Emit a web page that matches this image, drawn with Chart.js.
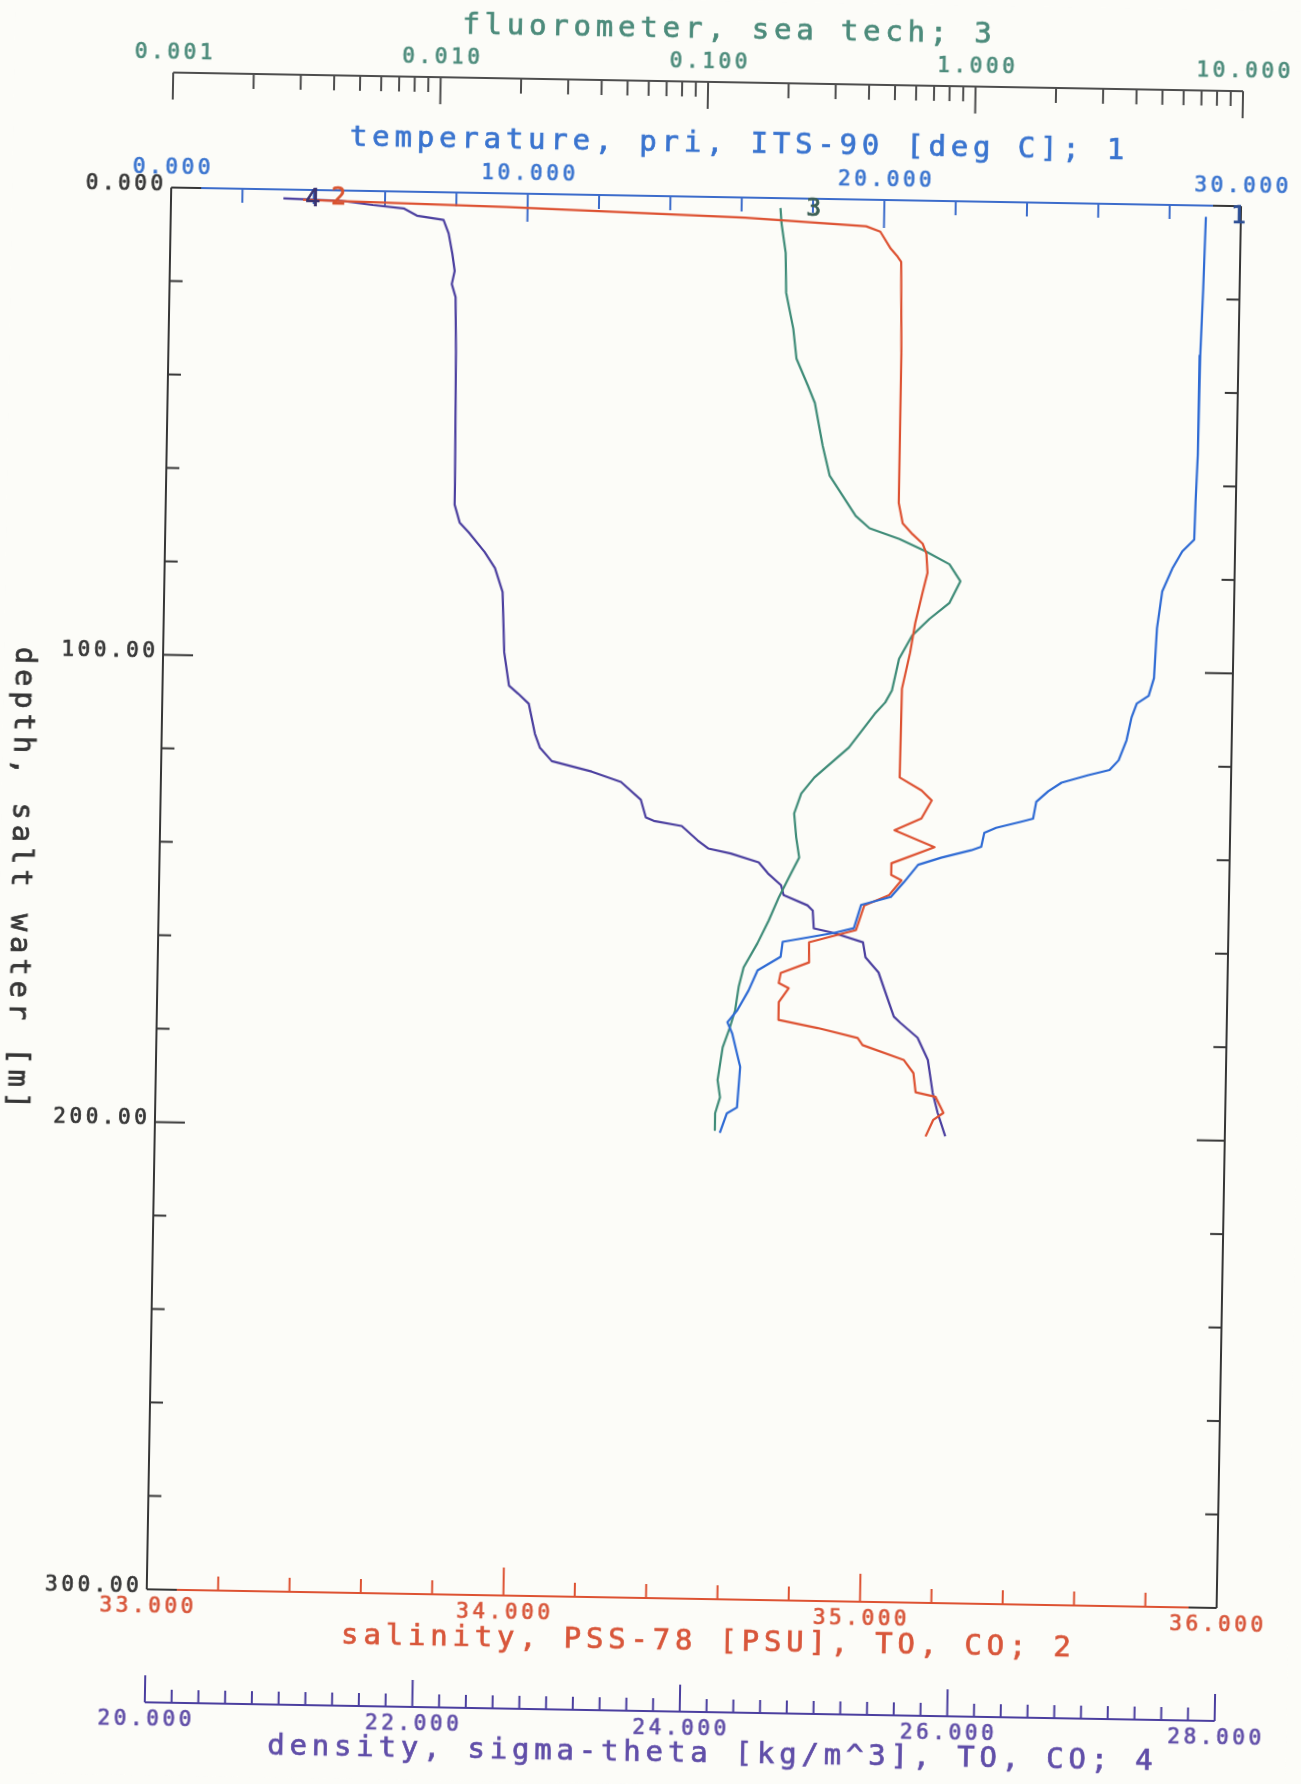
<!DOCTYPE html>
<html>
<head>
<meta charset="utf-8">
<title>CTD profile</title>
<script src="https://cdn.jsdelivr.net/npm/chart.js@4.4.1/dist/chart.umd.min.js"></script>
<style>
  html, body { margin: 0; padding: 0; background: #fcfcf8; overflow: hidden; }
  #sheet { width: 1301px; height: 1784px; transform: rotate(1deg); }
</style>
</head>
<body>
<div id="sheet"><canvas id="profile" width="1301" height="1784"></canvas></div>
<script>
/* cast profile: depth [m] against each sensor */
const tempDepth = [2.4, 17.7, 32.1, 53.3, 63.5, 71.5, 74.1, 77.8, 82.7, 90.6, 101.3, 105.1, 106.8, 109.8, 114.7, 119.0, 121.1, 122.3, 124.0, 125.9, 128.2, 131.8, 132.5, 133.9, 135.0, 138.0, 138.8, 140.5, 142.1, 145.9, 149.1, 150.9, 155.9, 157.0, 159.1, 162.3, 165.3, 169.6, 173.9, 176.5, 178.9, 186.0, 194.7, 196.0, 200.2];
const tempValue = [29.02, 28.98, 28.93, 28.91, 28.87, 28.85, 28.52, 28.25, 27.98, 27.85, 27.79, 27.65, 27.32, 27.18, 27.05, 26.84, 26.59, 26.00, 25.25, 24.88, 24.55, 24.47, 24.14, 23.44, 23.11, 23.03, 22.75, 21.91, 21.27, 20.88, 20.52, 19.69, 19.50, 18.94, 17.51, 17.46, 16.82, 16.58, 16.27, 16.00, 16.14, 16.38, 16.31, 16.03, 15.84];

const salDepth = [2.1, 2.9, 4.3, 5.7, 6.8, 10.4, 12.1, 13.2, 32.8, 64.8, 69.1, 71.4, 73.4, 75.5, 79.6, 83.9, 90.4, 96.8, 104.5, 123.5, 126.2, 128.3, 132.2, 134.8, 138.3, 141.9, 144.4, 145.5, 148.7, 151.0, 156.3, 159.1, 163.4, 165.8, 167.9, 169.0, 172.0, 175.8, 177.4, 179.4, 180.9, 183.9, 186.7, 190.8, 191.7, 195.1, 196.6, 200.2];
const salValue = [33.37, 33.94, 34.61, 34.95, 34.99, 35.02, 35.04, 35.05, 35.055, 35.055, 35.067, 35.095, 35.124, 35.135, 35.139, 35.126, 35.107, 35.094, 35.073, 35.071, 35.133, 35.162, 35.134, 35.059, 35.172, 35.052, 35.052, 35.081, 35.047, 34.978, 34.956, 34.825, 34.826, 34.747, 34.742, 34.770, 34.743, 34.743, 34.853, 34.966, 34.980, 35.096, 35.124, 35.131, 35.187, 35.210, 35.182, 35.161];

const fluorDepth = [2.1, 5.3, 11.7, 20.2, 27.9, 34.3, 40.0, 43.7, 52.8, 59.2, 67.7, 70.3, 72.5, 75.0, 77.7, 81.3, 86.0, 89.5, 93.1, 98.1, 104.9, 107.5, 110.0, 117.3, 123.8, 127.3, 131.6, 136.7, 141.0, 144.4, 149.5, 154.6, 159.5, 164.7, 168.9, 173.9, 177.6, 181.9, 188.9, 192.6, 196.0, 199.6];
const fluorValue = [0.190, 0.192, 0.200, 0.202, 0.216, 0.223, 0.247, 0.263, 0.283, 0.302, 0.380, 0.429, 0.556, 0.697, 0.858, 0.945, 0.862, 0.727, 0.629, 0.564, 0.533, 0.504, 0.461, 0.371, 0.277, 0.248, 0.234, 0.239, 0.246, 0.230, 0.208, 0.191, 0.174, 0.155, 0.149, 0.145, 0.139, 0.131, 0.126, 0.129, 0.124, 0.124];

const densDepth = [1.9, 2.2, 3.0, 3.6, 5.1, 5.9, 8.8, 13.1, 16.8, 19.6, 22.4, 34.0, 62.5, 66.8, 70.6, 72.7, 76.8, 80.2, 85.3, 98.2, 105.3, 107.0, 109.1, 115.5, 118.5, 121.3, 123.4, 125.5, 129.2, 133.0, 133.7, 134.7, 137.7, 139.4, 140.4, 142.2, 144.5, 147.0, 149.1, 151.2, 152.3, 156.1, 157.0, 158.9, 162.1, 165.3, 174.7, 176.0, 179.1, 183.8, 190.8, 195.1, 200.1];
const densValue = [20.84, 21.27, 21.51, 21.74, 21.84, 22.04, 22.08, 22.11, 22.13, 22.11, 22.14, 22.15, 22.16, 22.16, 22.20, 22.27, 22.39, 22.47, 22.53, 22.55, 22.59, 22.66, 22.74, 22.79, 22.83, 22.92, 23.22, 23.44, 23.59, 23.63, 23.69, 23.90, 24.02, 24.10, 24.27, 24.48, 24.55, 24.65, 24.67, 24.85, 24.89, 24.90, 25.05, 25.27, 25.29, 25.39, 25.51, 25.56, 25.69, 25.77, 25.81, 25.85, 25.91];

// axis ticks and their labels
const depthMajor = [0, 100, 200, 300];
const depthLabels = ['0.000', '100.00', '200.00', '300.00'];
const tempMajor = [0, 10, 20, 30];
const tempLabels = ['0.000', '10.000', '20.000', '30.000'];
const salMajor = [33, 34, 35, 36];
const salLabels = ['33.000', '34.000', '35.000', '36.000'];
const densMajor = [20, 22, 24, 26, 28];
const densLabels = ['20.000', '22.000', '24.000', '26.000', '28.000'];
const fluorMajor = [0.001, 0.01, 0.1, 1, 10];
const fluorLabels = ['0.001', '0.010', '0.100', '1.000', '10.000'];

// curve numbers written at the surface end of each trace: [text, axis, value, depth]
const curveTags = [['4', 'xDens', 21.06, 1.5], ['2', 'xSal', 33.47, 1.1], ['3', 'xFluor', 0.253, 1.6], ['1', 'xTemp', 29.93, 1.6]];

const COL = {
  temp: '#2f6bd4', sal: '#dd5232', fluor: '#3f8c78', dens: '#4b3f9f',
  tempText: '#3a74cf', salText: '#d8563a', fluorText: '#4c8b7b', densText: '#604ea8',
  frame: '#363636', depthText: '#363636', fluorAxis: '#4d4d4d', tempAxis: '#3c6ccb'
};
const FONT = '"DejaVu Sans Mono", monospace';
const TICK_PX = 21, TICK_GAP = 3.6;
const TITLE_PX = 29, TITLE_GAP = 4.8;

function dataset(label, depth, value, axis, color) {
  return {
    label: label,
    data: depth.map((d, i) => ({ x: value[i], y: d })),
    xAxisID: axis, yAxisID: 'y',
    showLine: true, borderColor: color, borderWidth: 2.2,
    borderJoinStyle: 'round', pointRadius: 0, tension: 0, fill: false
  };
}

// plotter lettering: monospaced, widely spaced, pen stroke drawn over the glyph
function put(ctx, str, x, yMid, px, gap, color, align) {
  ctx.font = px + 'px ' + FONT;
  ctx.fillStyle = color;
  ctx.strokeStyle = color;
  ctx.lineWidth = 0.7;
  ctx.textAlign = align || 'center';
  ctx.textBaseline = 'alphabetic';
  let shift = 0;
  if ('letterSpacing' in ctx) {
    ctx.letterSpacing = gap + 'px';
    shift = align === 'right' ? gap : (align === 'left' ? 0 : gap / 2);
  }
  const by = yMid + 0.365 * px;
  ctx.fillText(str, x + shift, by);
  ctx.strokeText(str, x + shift, by);
}

function seg(ctx, x1, y1, x2, y2, color) {
  ctx.strokeStyle = color;
  ctx.beginPath();
  ctx.moveTo(x1, y1);
  ctx.lineTo(x2, y2);
  ctx.stroke();
}

function steps(min, max, step, majors) {
  const out = [];
  const n = Math.round((max - min) / step);
  for (let i = 0; i <= n; i++) {
    const v = min + i * step;
    if (!majors.some(m => Math.abs(m - v) < 1e-6)) out.push(v);
  }
  return out;
}

const paper = {
  id: 'paper',
  beforeDraw(chart) {
    const ctx = chart.ctx;
    ctx.save();
    ctx.fillStyle = '#fcfcf8';
    ctx.fillRect(0, 0, chart.width, chart.height);
    ctx.restore();
  }
};

const plotter = {
  id: 'plotter',
  beforeDatasetsDraw(chart) {
    const { ctx, chartArea: a, scales } = chart;
    const cx = (a.left + a.right) / 2;
    const fluorY = a.top - 115;
    const densY = a.bottom + 113;
    ctx.save();

    // fluorometer, log scale, ticks hang below the line
    const fx = scales.xFluor;
    ctx.lineWidth = 2;
    seg(ctx, a.left, fluorY, a.right, fluorY, COL.fluorAxis);
    fluorMajor.forEach(v => {
      const x = fx.getPixelForValue(v);
      seg(ctx, x, fluorY, x, fluorY + 27, COL.fluorAxis);
    });
    for (let d = 0.001; d < 9; d *= 10) {
      for (let m = 2; m <= 9; m++) {
        const x = fx.getPixelForValue(d * m);
        seg(ctx, x, fluorY, x, fluorY + 15, COL.fluorAxis);
      }
    }
    fluorMajor.forEach((v, i) => put(ctx, fluorLabels[i], fx.getPixelForValue(v), fluorY - 22, TICK_PX, TICK_GAP, COL.fluorText));
    put(ctx, 'fluorometer, sea tech; 3', cx + 18, fluorY - 55, TITLE_PX, TITLE_GAP, COL.fluorText);

    // temperature along the top of the frame
    const tx = scales.xTemp;
    ctx.lineWidth = 2;
    seg(ctx, a.left, a.top, a.right, a.top, COL.tempAxis);
    tempMajor.forEach(v => {
      const x = tx.getPixelForValue(v);
      seg(ctx, x, a.top, x, a.top + 28, COL.tempAxis);
    });
    steps(0, 30, 2, tempMajor).forEach(v => {
      const x = tx.getPixelForValue(v);
      seg(ctx, x, a.top, x, a.top + 14, COL.tempAxis);
    });
    tempMajor.forEach((v, i) => put(ctx, tempLabels[i], tx.getPixelForValue(v), a.top - 22, TICK_PX, TICK_GAP, COL.tempText));
    put(ctx, 'temperature, pri, ITS-90 [deg C]; 1', cx + 30, a.top - 56, TITLE_PX, TITLE_GAP, COL.tempText);

    // salinity along the bottom of the frame
    const sx = scales.xSal;
    ctx.lineWidth = 2;
    seg(ctx, a.left, a.bottom, a.right, a.bottom, COL.sal);
    salMajor.forEach(v => {
      const x = sx.getPixelForValue(v);
      seg(ctx, x, a.bottom, x, a.bottom - 28, COL.sal);
    });
    steps(33, 36, 0.2, salMajor).forEach(v => {
      const x = sx.getPixelForValue(v);
      seg(ctx, x, a.bottom, x, a.bottom - 14, COL.sal);
    });
    salMajor.forEach((v, i) => put(ctx, salLabels[i], sx.getPixelForValue(v), a.bottom + 15, TICK_PX, TICK_GAP, COL.salText));
    put(ctx, 'salinity, PSS-78 [PSU], TO, CO; 2', cx + 25, a.bottom + 40, TITLE_PX, TITLE_GAP, COL.salText);

    // density, detached line below salinity
    const dx = scales.xDens;
    ctx.lineWidth = 2;
    seg(ctx, a.left, densY, a.right, densY, COL.dens);
    densMajor.forEach(v => {
      const x = dx.getPixelForValue(v);
      seg(ctx, x, densY, x, densY - 27, COL.dens);
    });
    steps(20, 28, 0.2, densMajor).forEach(v => {
      const x = dx.getPixelForValue(v);
      seg(ctx, x, densY, x, densY - 13, COL.dens);
    });
    densMajor.forEach((v, i) => put(ctx, densLabels[i], dx.getPixelForValue(v), densY + 15, TICK_PX, TICK_GAP, COL.densText));
    put(ctx, 'density, sigma-theta [kg/m^3], TO, CO; 4', cx + 31, densY + 39, TITLE_PX, TITLE_GAP, COL.densText);

    // depth on both sides, ticks pointing inward
    const y = scales.y;
    ctx.lineWidth = 2;
    seg(ctx, a.left, a.top, a.left, a.bottom, COL.frame);
    seg(ctx, a.right, a.top, a.right, a.bottom, COL.frame);
    depthMajor.forEach(v => {
      const py = y.getPixelForValue(v);
      seg(ctx, a.left, py, a.left + 30, py, COL.frame);
      seg(ctx, a.right, py, a.right - 28, py, COL.frame);
    });
    steps(0, 300, 20, depthMajor).forEach(v => {
      const py = y.getPixelForValue(v);
      seg(ctx, a.left, py, a.left + 13, py, COL.frame);
      seg(ctx, a.right, py, a.right - 13, py, COL.frame);
    });
    depthMajor.forEach((v, i) => put(ctx, depthLabels[i], a.left - 8, y.getPixelForValue(v) - 5, TICK_PX, TICK_GAP, COL.depthText, 'right'));
    ctx.save();
    ctx.translate(23, (a.top + a.bottom) / 2 - 8);
    ctx.rotate(Math.PI / 2);
    put(ctx, 'depth, salt water [m]', 0, 0, TITLE_PX, TITLE_GAP, COL.depthText);
    ctx.restore();

    ctx.restore();
  },
  afterDatasetsDraw(chart) {
    const ctx = chart.ctx;
    const colors = { xTemp: '#2d4f95', xSal: '#d9532f', xFluor: '#3c5f55', xDens: '#3a3270' };
    ctx.save();
    curveTags.forEach(([txt, axis, v, d]) => {
      const x = chart.scales[axis].getPixelForValue(v);
      const py = chart.scales.y.getPixelForValue(d);
      put(ctx, txt, x, py, 25, 0, colors[axis]);
    });
    ctx.restore();
  }
};

const ctx = document.getElementById('profile').getContext('2d');
const chart = new Chart(ctx, {
  type: 'scatter',
  data: {
    datasets: [
      dataset('temperature', tempDepth, tempValue, 'xTemp', COL.temp),
      dataset('salinity', salDepth, salValue, 'xSal', COL.sal),
      dataset('fluorometer', fluorDepth, fluorValue, 'xFluor', COL.fluor),
      dataset('density', densDepth, densValue, 'xDens', COL.dens)
    ]
  },
  options: {
    responsive: false,
    animation: false,
    devicePixelRatio: 1,
    layout: { padding: { left: 159, right: 72, top: 196, bottom: 186 } },
    plugins: { legend: { display: false }, tooltip: { enabled: false } },
    scales: {
      x: { display: false },
      y: { type: 'linear', reverse: true, min: 0, max: 300, display: false },
      xTemp: { type: 'linear', position: 'top', min: 0, max: 30, display: false },
      xFluor: { type: 'logarithmic', position: 'top', min: 0.001, max: 10, display: false },
      xSal: { type: 'linear', position: 'bottom', min: 33, max: 36, display: false },
      xDens: { type: 'linear', position: 'bottom', min: 20, max: 28, display: false }
    }
  },
  plugins: [paper, plotter]
});
</script>
</body>
</html>
